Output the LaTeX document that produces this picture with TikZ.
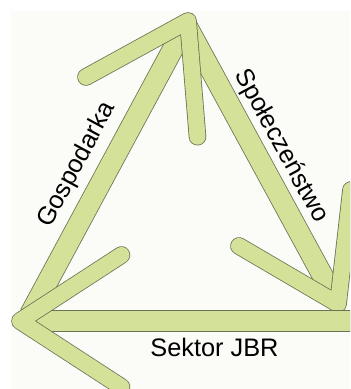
\documentclass[tikz,border=0pt]{standalone}
\usepackage{fontspec}
\setmainfont{Liberation Sans}

\definecolor{arrowfill}{RGB}{211,226,152}
\definecolor{arrowline}{RGB}{105,115,85}
\definecolor{paper}{RGB}{251,252,247}

\tikzset{every picture/.style={line width=0.75pt}}
\tikzset{
  shaft/.style={draw=arrowline, line width=0.6pt, double=arrowfill, double distance=15pt, line cap=rect},
  barbs/.style={draw=arrowline, line width=0.6pt, double=arrowfill, double distance=12pt, line cap=round, line join=round},
  sidetext/.style={font=\fontsize{19}{23}\selectfont, text=black, inner sep=0pt}
}

\begin{document}
\begin{tikzpicture}[x=0.75pt,y=0.75pt,yscale=-1,xscale=1]
\useasboundingbox (0,0) rectangle (350,389);
\clip (0,0) rectangle (350,389);

%Shape: Rectangle [paper]
\fill[paper] (11,11) rectangle (350,389);

%Points of the three arrows
\coordinate (spoStart) at (187.6,27.4);
\coordinate (spoNeck) at (331,291);
\coordinate (spoTip) at (338,304);
\coordinate (spoBarbA) at (239,246);
\coordinate (spoBarbB) at (351,190);
\coordinate (gosStart) at (35,305);
\coordinate (gosNeck) at (181,34);
\coordinate (gosTip) at (188,21);
\coordinate (gosBarbA) at (86,77);
\coordinate (gosBarbB) at (197.5,136.7);
\coordinate (jbrStart) at (370,321);
\coordinate (jbrNeck) at (35,321);
\coordinate (jbrTip) at (20,321);
\coordinate (jbrBarbA) at (121.5,255);
\coordinate (jbrBarbB) at (121.5,387);

%Arrow: Spoleczenstwo
\draw[shaft] (spoStart) -- (spoNeck);
\draw[barbs] (spoBarbA) -- (spoTip) -- (spoBarbB);
%Arrow: Gospodarka
\draw[shaft] (gosStart) -- (gosNeck);
\draw[barbs] (gosBarbA) -- (gosTip) -- (gosBarbB);
%Arrow: Sektor JBR
\draw[shaft] (jbrStart) -- (jbrNeck);
\draw[barbs] (jbrBarbA) -- (jbrTip) -- (jbrBarbB);

% Text Node
\node[sidetext, rotate=61.7] (gosText) at (77,165) {Gospodarka};
% Text Node
\node[sidetext, rotate=-61.5] (spoText) at (281,146) {Społeczeństwo};
% Text Node
\node[sidetext] (jbrText) at (214.5,347) {Sektor JBR};

\end{tikzpicture}
\end{document}
